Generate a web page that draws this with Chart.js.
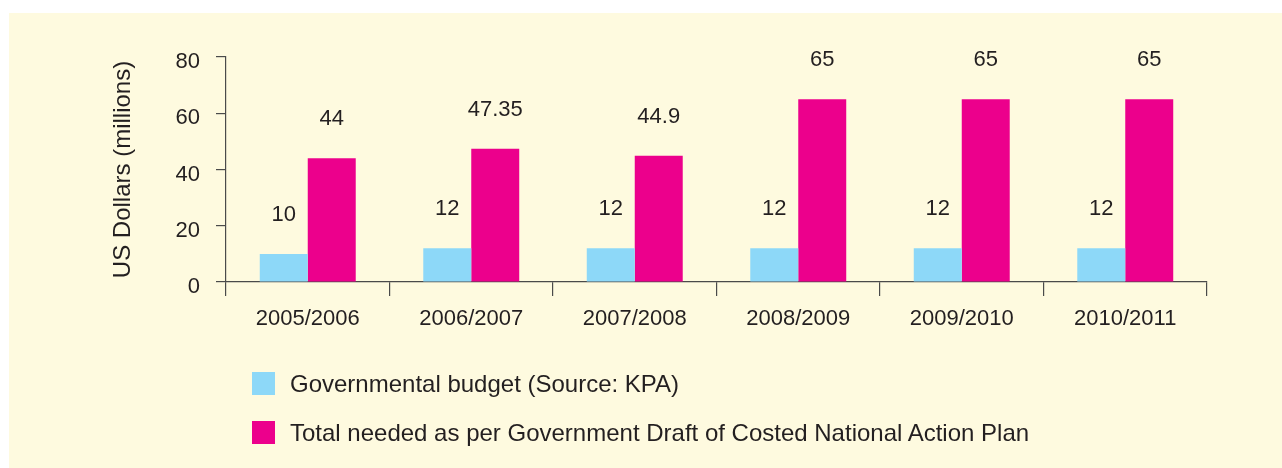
<!DOCTYPE html>
<html>
<head>
<meta charset="utf-8">
<script src="https://cdn.jsdelivr.net/npm/chart.js@4/dist/chart.umd.min.js"></script>
<style>
  html, body { margin: 0; padding: 0; background: #ffffff; }
  #bg { position: absolute; left: 9px; top: 13px; width: 1273px; height: 455px; background: #FEFADF; }
  #wrap { position: absolute; left: 0; top: 0; width: 1282px; height: 468px; }
  canvas { position: absolute; left: 0; top: 0; }
  #legend { position: absolute; left: 252px; top: 372px; font-family: "Liberation Sans", Arial, sans-serif; font-size: 24px; color: #231F20; }
  .item { position: relative; height: 23px; margin-bottom: 26px; white-space: nowrap; }
  .sw { position: absolute; left: 0; top: 0; width: 23px; height: 23px; }
  .lbl { position: absolute; left: 38px; top: 50%; transform: translateY(-50%); line-height: 1; }
</style>
</head>
<body>
<div id="bg"></div>
<div id="wrap"><canvas id="c" width="1282" height="468"></canvas></div>
<div id="legend"></div>
<script>
const categories = ["2005/2006", "2006/2007", "2007/2008", "2008/2009", "2009/2010", "2010/2011"];
const governmentalBudget = [10, 12, 12, 12, 12, 12];
const totalNeeded = [44, 47.35, 44.9, 65, 65, 65];
const seriesLabels = ["Governmental budget (Source: KPA)", "Total needed as per Government Draft of Costed National Action Plan"];
const seriesColors = ["#8DD8F8", "#EC008C"];
const yTicks = [0, 20, 40, 60, 80];
const yTitle = "US Dollars (millions)";

const FONT = "'Liberation Sans', Arial, sans-serif";
const TEXT = "#231F20";
const AXIS = "#4a4a4a";

const valueLabels = {
  id: 'valueLabels',
  afterDatasetsDraw(chart) {
    const ctx = chart.ctx;
    ctx.save();
    ctx.font = "22px " + FONT;
    ctx.fillStyle = TEXT;
    ctx.textAlign = 'center';
    ctx.textBaseline = 'middle';
    chart.data.datasets.forEach((ds, i) => {
      chart.getDatasetMeta(i).data.forEach((bar, j) => {
        ctx.fillText(String(ds.data[j]), bar.x, bar.y - 39);
      });
    });
    ctx.restore();
  }
};

const chart = new Chart(document.getElementById('c'), {
  type: 'bar',
  data: {
    labels: categories,
    datasets: [
      { label: seriesLabels[0], data: governmentalBudget, backgroundColor: seriesColors[0] },
      { label: seriesLabels[1], data: totalNeeded, backgroundColor: seriesColors[1] }
    ]
  },
  options: {
    responsive: false,
    animation: false,
    events: [],
    categoryPercentage: 0.587,
    barPercentage: 1,
    layout: { padding: { left: 100, right: 75, top: 57, bottom: 126 } },
    plugins: { legend: { display: false }, tooltip: { enabled: false } },
    scales: {
      x: {
        afterFit(s) { s.height = 60; },
        grid: { display: true, drawOnChartArea: false, drawTicks: true, tickLength: 14, color: AXIS, lineWidth: 1.2, offset: true },
        border: { display: true, color: AXIS, width: 1.2 },
        ticks: { color: TEXT, font: { family: FONT, size: 22 }, padding: 10, maxRotation: 0 }
      },
      y: {
        min: 0, max: 80,
        afterFit(s) { s.width = 126; },
        afterBuildTicks(s) { s.ticks = yTicks.map(v => ({ value: v })); },
        grid: { display: true, drawOnChartArea: false, drawTicks: true, tickLength: 10, color: AXIS, lineWidth: 1.2 },
        border: { display: true, color: AXIS, width: 1.2 },
        ticks: { color: TEXT, font: { family: FONT, size: 22 }, padding: 16, labelOffset: 5 },
        title: { display: true, text: yTitle, color: TEXT, font: { family: FONT, size: 24 }, padding: { top: 8.6, bottom: 0 } }
      }
    }
  },
  plugins: [valueLabels]
});

const legend = document.getElementById('legend');
chart.data.datasets.forEach(ds => {
  const it = document.createElement('div');
  it.className = 'item';
  const sw = document.createElement('div');
  sw.className = 'sw';
  sw.style.background = ds.backgroundColor;
  const lb = document.createElement('div');
  lb.className = 'lbl';
  lb.textContent = ds.label;
  it.appendChild(sw); it.appendChild(lb);
  legend.appendChild(it);
});
</script>
</body>
</html>
